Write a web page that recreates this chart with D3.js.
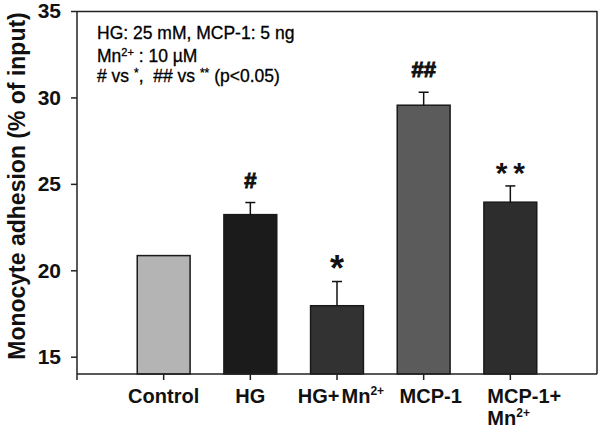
<!DOCTYPE html>
<html>
<head>
<meta charset="utf-8">
<script src="https://cdn.jsdelivr.net/npm/d3@7"></script>
<style>
  html, body { margin: 0; padding: 0; background: #fff; }
  svg { display: block; font-family: "Liberation Sans", Arial, sans-serif; }
</style>
</head>
<body>
<svg id="chart" width="600" height="430"></svg>
<script>
// ---- data ----
const categories = ["Control", "HG", "HG+Mn", "MCP-1", "MCP-1+Mn"];
const means = [20.85, 23.22, 17.95, 29.55, 23.94];
const errors = [0, 0.70, 1.40, 0.75, 0.94];
const marks = ["", "#", "*", "##", "**"];
const barColors = ["#b4b4b4", "#1b1b1b", "#323232", "#5b5b5b", "#2d2d2d"];
const yTicks = [15, 20, 25, 30, 35];
const yDomain = [14, 35];
const yTitle = "Monocyte adhesion (% of input)";

const svg = d3.select("#chart");
const pL = 77, pR = 597, pT = 11, pB = 374;

const x = d3.scaleBand().domain(categories).range([pL, pR])
  .paddingInner(0.39).paddingOuter(0.695);
const y = d3.scaleLinear().domain(yDomain).range([pB, pT]);

// frame (top and right)
svg.append("line").attr("x1", pL).attr("x2", pR).attr("y1", pT + 0.5).attr("y2", pT + 0.5)
  .attr("stroke", "#222").attr("stroke-width", 1.5);
svg.append("line").attr("x1", pR).attr("x2", pR).attr("y1", pT).attr("y2", pB)
  .attr("stroke", "#222").attr("stroke-width", 1.5);

// bars
svg.append("g").selectAll("rect").data(categories).join("rect")
  .attr("x", d => x(d))
  .attr("y", (d, i) => y(means[i]))
  .attr("width", x.bandwidth())
  .attr("height", (d, i) => pB - y(means[i]))
  .attr("fill", (d, i) => barColors[i])
  .attr("stroke", "#1a1a1a").attr("stroke-width", 1.5);

// error bars (upper only)
const eb = svg.append("g").attr("stroke", "#111").attr("stroke-width", 1.5);
categories.forEach((c, i) => {
  if (!errors[i]) return;
  const cx = x(c) + x.bandwidth() / 2;
  eb.append("line").attr("x1", cx).attr("x2", cx).attr("y1", y(means[i])).attr("y2", y(means[i] + errors[i]));
  eb.append("line").attr("x1", cx - 5).attr("x2", cx + 5).attr("y1", y(means[i] + errors[i])).attr("y2", y(means[i] + errors[i]));
});

// significance marks
categories.forEach((c, i) => {
  if (!marks[i]) return;
  const cx = x(c) + x.bandwidth() / 2;
  const ty = y(means[i] + errors[i]);
  const m = marks[i];
  let size, dy, ls = 0, sw = 0;
  if (m === "*") { size = 36; dy = 1; }
  else if (m === "**") { size = 30; dy = 3; ls = 6; }
  else { size = 22; dy = 15; sw = 1; }
  svg.append("text").attr("x", cx + ls / 2).attr("y", ty - dy)
    .attr("text-anchor", "middle")
    .attr("font-size", size).attr("font-weight", "bold")
    .attr("fill", "#111")
    .attr("stroke", sw ? "#111" : "none").attr("stroke-width", sw)
    .attr("letter-spacing", ls)
    .text(m);
});

// y axis
const yAxis = svg.append("g").attr("transform", `translate(${pL},0)`)
  .call(d3.axisLeft(y).tickValues(yTicks).tickSize(6).tickPadding(10));
yAxis.select(".domain").remove();
yAxis.append("line").attr("x1", 0).attr("x2", 0).attr("y1", pT).attr("y2", pB + 6)
  .attr("stroke", "#222").attr("stroke-width", 1.5);
yAxis.selectAll(".tick line").attr("stroke", "#222").attr("stroke-width", 1.5);
yAxis.selectAll(".tick text").attr("font-size", 21).attr("font-weight", "bold")
  .attr("fill", "#111").attr("font-family", "Liberation Sans, Arial, sans-serif");

// x axis
const xAxis = svg.append("g").attr("transform", `translate(0,${pB})`)
  .call(d3.axisBottom(x).tickSize(6).tickFormat(""));
xAxis.select(".domain").remove();
xAxis.append("line").attr("x1", pL).attr("x2", pR).attr("y1", 0).attr("y2", 0)
  .attr("stroke", "#222").attr("stroke-width", 1.5);
xAxis.selectAll(".tick line").attr("stroke", "#222").attr("stroke-width", 1.5);

// x labels
const lab = svg.append("g").attr("font-size", 20).attr("font-weight", "bold").attr("fill", "#111");
function sup(t, s) { t.append("tspan").attr("font-size", 12).attr("dy", -8).text(s); }
categories.forEach((c, i) => {
  const cx = x(c) + x.bandwidth() / 2;
  if (c === "HG+Mn") {
    const t = lab.append("text").attr("x", cx + 4).attr("y", 403).attr("text-anchor", "middle");
    t.append("tspan").text("HG+");
    t.append("tspan").attr("dx", 2).text("Mn");
    sup(t, "2+");
  } else if (c === "MCP-1+Mn") {
    const t = lab.append("text").attr("x", cx - 23).attr("y", 403).attr("text-anchor", "start");
    t.append("tspan").text("MCP-1+");
    const t2 = lab.append("text").attr("x", cx - 23).attr("y", 425).attr("text-anchor", "start");
    t2.append("tspan").text("Mn");
    sup(t2, "2+");
  } else {
    lab.append("text").attr("x", c === "MCP-1" ? cx + 7 : cx).attr("y", 403)
      .attr("text-anchor", "middle").text(c);
  }
});

// info text block
const info = svg.append("g").attr("font-size", 17.5).attr("fill", "#000")
  .attr("stroke", "#000").attr("stroke-width", 0.3);
info.append("text").attr("x", 97).attr("y", 39).text("HG: 25 mM, MCP-1: 5 ng");
const l2 = info.append("text").attr("x", 97).attr("y", 62);
l2.append("tspan").text("Mn");
l2.append("tspan").attr("font-size", 11).attr("dy", -6).text("2+");
l2.append("tspan").attr("dy", 6).text(" : 10 µM");
const l3 = info.append("text").attr("x", 97).attr("y", 82);
l3.append("tspan").text("# vs ");
l3.append("tspan").attr("font-size", 12).attr("dy", -5).text("*");
l3.append("tspan").attr("dy", 5).text(",\u00a0\u00a0## vs ");
l3.append("tspan").attr("font-size", 12).attr("dy", -5).text("**");
l3.append("tspan").attr("dy", 5).text(" (p<0.05)");

// y title
svg.append("text").attr("transform", "translate(25,186) rotate(-90)")
  .attr("text-anchor", "middle").attr("font-size", 23).attr("font-weight", "bold")
  .attr("fill", "#111").text(yTitle);
</script>
</body>
</html>
